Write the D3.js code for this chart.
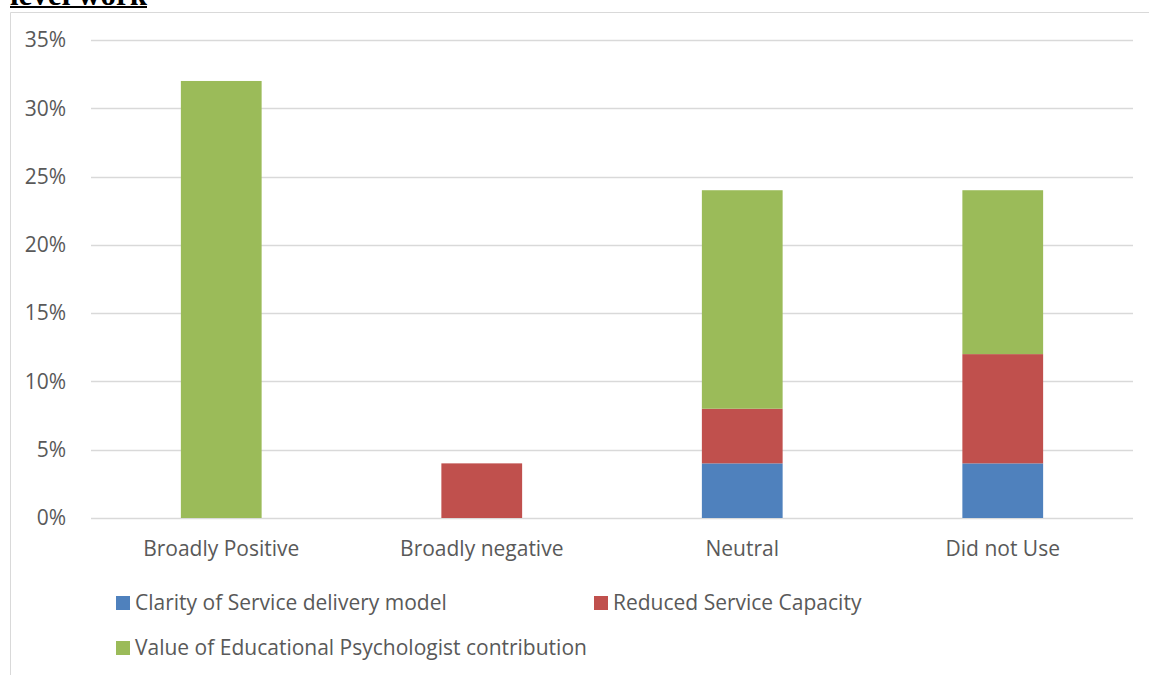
<!DOCTYPE html>
<html>
<head>
<meta charset="utf-8">
<script src="https://cdn.jsdelivr.net/npm/d3@7"></script>
<style>
  body { margin: 0; background: #fff; }
  svg { display: block; }
</style>
</head>
<body>
<svg width="1149" height="675"></svg>
<script>
const categories = ['Broadly Positive', 'Broadly negative', 'Neutral', 'Did not Use'];
const seriesNames = ['Clarity of Service delivery model', 'Reduced Service Capacity', 'Value of Educational Psychologist contribution'];
const clarity = [0, 0, 4, 4];
const reduced = [0, 4, 4, 8];
const value = [32, 0, 16, 12];
const yTicks = [0, 5, 10, 15, 20, 25, 30, 35];
const colors = ['#4f81bd', '#c0504d', '#9bbb59'];

const svg = d3.select('svg');
const font = '"Open Sans", sans-serif';
const textColor = '#595959';

// heading text from the page, cut off by the top edge
svg.append('text')
  .attr('x', 10).attr('y', 5)
  .attr('font-family', '"Liberation Serif", "Times New Roman", serif')
  .attr('font-weight', 'bold')
  .attr('font-size', 31)
  .attr('fill', '#000')
  .text('level work');
svg.append('line')
  .attr('x1', 10).attr('x2', 147).attr('y1', 7).attr('y2', 7)
  .attr('stroke', '#000').attr('stroke-width', 2);

// chart frame
svg.append('path')
  .attr('d', 'M10.5,675 V12.5 H1149')
  .attr('fill', 'none').attr('stroke', '#d9d9d9');

const x = d3.scaleBand().domain(categories).range([91, 1133]).paddingInner(0.69).paddingOuter(0.345);
const y = d3.scaleLinear().domain([0, 35]).range([518, 40]);

const data = categories.map((c, i) => ({ cat: c, clarity: clarity[i], reduced: reduced[i], value: value[i] }));
const stack = d3.stack().keys(['clarity', 'reduced', 'value'])(data);

// gridlines
svg.append('g').selectAll('line').data(yTicks).enter().append('line')
  .attr('x1', 91).attr('x2', 1133)
  .attr('y1', d => Math.round(y(d)) + 0.5).attr('y2', d => Math.round(y(d)) + 0.5)
  .attr('stroke', '#d9d9d9').attr('stroke-width', 1.5);

// y axis labels
const yAxis = svg.append('g').attr('transform', 'translate(69,0)')
  .call(d3.axisLeft(y).tickValues(yTicks).tickFormat(d => d + '%').tickSize(0));
yAxis.select('.domain').remove();
yAxis.selectAll('text').attr('font-family', font).attr('font-size', 21).attr('fill', textColor);

// bars
svg.append('g').selectAll('g').data(stack).enter().append('g')
  .attr('fill', (d, i) => colors[i])
  .selectAll('rect').data(d => d).enter().append('rect')
  .attr('x', d => x(d.data.cat))
  .attr('width', x.bandwidth())
  .attr('y', d => y(d[1]))
  .attr('height', d => y(d[0]) - y(d[1]));

// x axis labels
const xAxis = svg.append('g').attr('transform', 'translate(0,' + 518 + ')')
  .call(d3.axisBottom(x).tickSize(0).tickPadding(23));
xAxis.select('.domain').remove();
xAxis.selectAll('text').attr('font-family', font).attr('font-size', 21).attr('fill', textColor);

// legend
const legendPos = [[116, 603], [594, 603], [116, 648]];
const legend = svg.append('g').selectAll('g').data(seriesNames).enter().append('g')
  .attr('transform', (d, i) => 'translate(' + legendPos[i][0] + ',' + legendPos[i][1] + ')');
legend.append('rect').attr('x', 0).attr('y', -7).attr('width', 14).attr('height', 14)
  .attr('fill', (d, i) => colors[i]);
legend.append('text').attr('x', 19).attr('y', 0).attr('dy', '0.35em')
  .attr('font-family', font).attr('font-size', 21).attr('fill', textColor)
  .text(d => d);
</script>
</body>
</html>
